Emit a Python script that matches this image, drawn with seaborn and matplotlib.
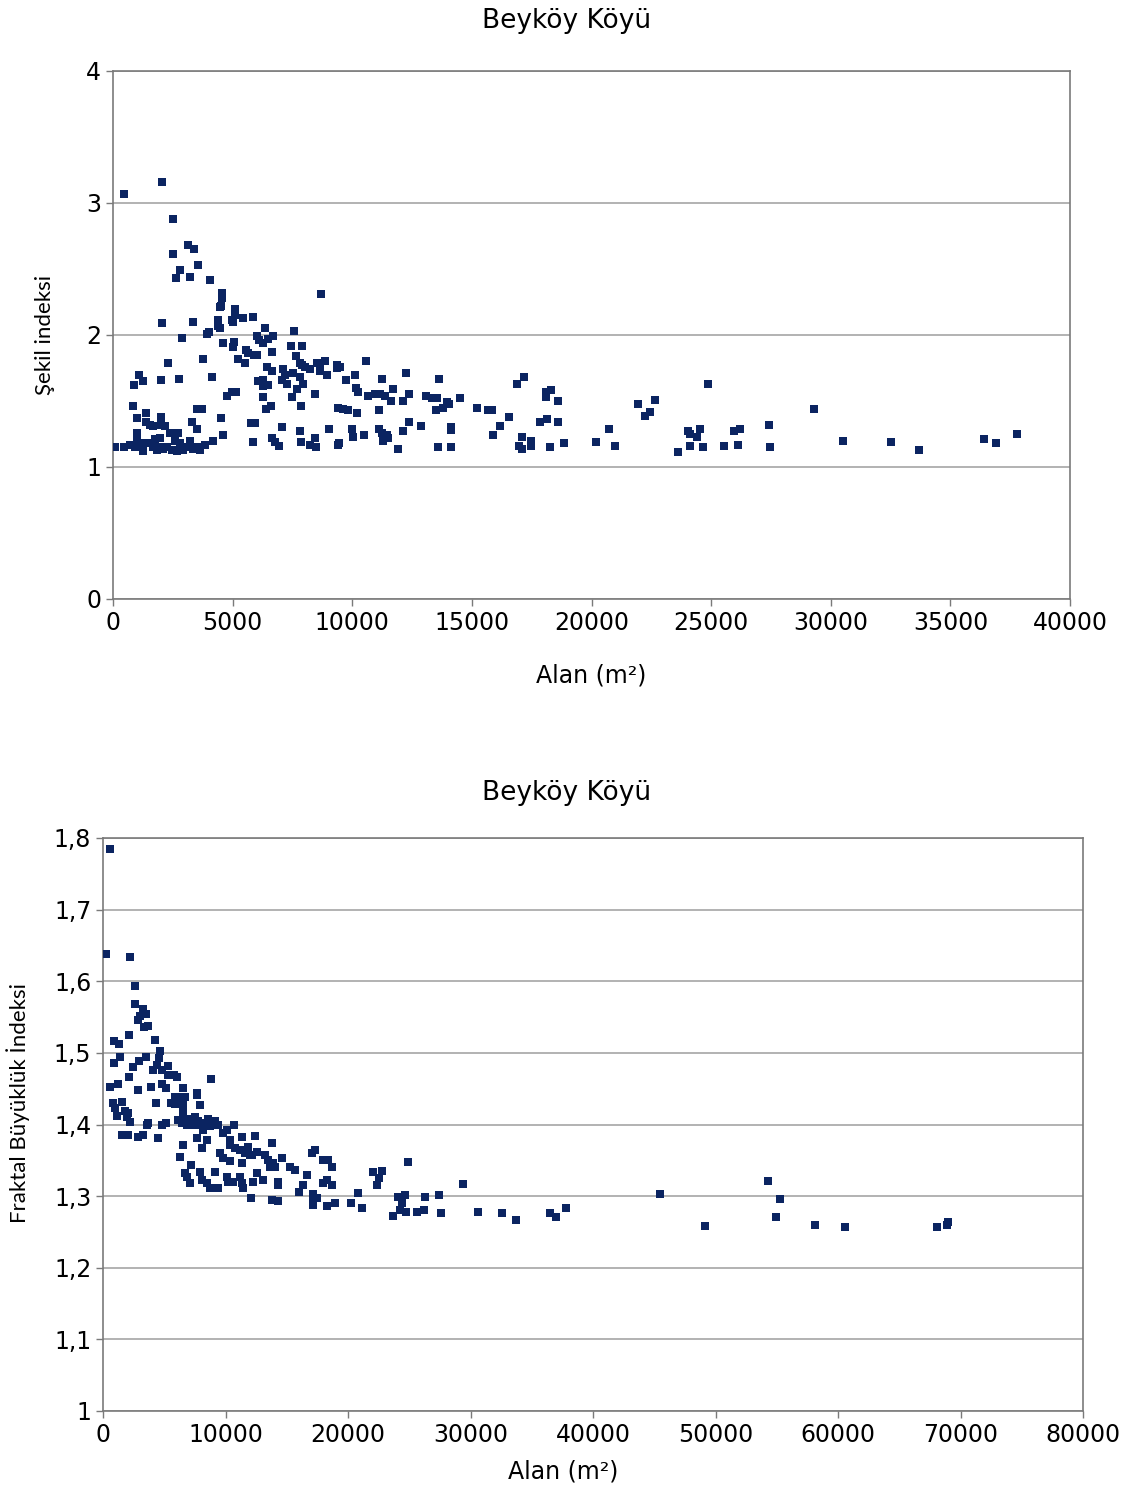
import numpy as np
import pandas as pd
import matplotlib
matplotlib.use("Agg")
import matplotlib.pyplot as plt
import seaborn as sns

# ---------------- data ----------------
title = "Beyköy Köyü"
xlabel = "Alan (m²)"
top_ylabel = "Şekil indeksi"
bottom_ylabel = "Fraktal Büyüklük İndeksi"

top_xticks = [0, 5000, 10000, 15000, 20000, 25000, 30000, 35000, 40000]
top_yticks = [0, 1, 2, 3, 4]
bot_xticks = [0, 10000, 20000, 30000, 40000, 50000, 60000, 70000, 80000]
bot_yticks = [1.0, 1.1, 1.2, 1.3, 1.4, 1.5, 1.6, 1.7, 1.8]
bot_yticklabels = ["1", "1,1", "1,2", "1,3", "1,4", "1,5", "1,6", "1,7", "1,8"]

top_area = [460, 2060, 2495, 2495, 3150, 3370, 2815, 2650, 3230, 3570, 4055, 4540, 4540, 4500, 4470,
            8695, 2060, 3360, 2870, 3915, 4000, 4400, 4400, 4470, 5100, 5100, 4960, 5030, 5450, 5860,
            4585, 5070, 5030, 6350, 6005, 6115, 6285, 6490, 6675, 6630, 7580, 7430, 7900, 5545, 5655,
            5895, 6005, 5240, 5505, 7650, 7815, 7890, 8025, 8235, 8515, 8650, 8860, 8650, 8930, 9350,
            9375, 2280, 3775, 4150, 2005, 2760, 1100, 890, 1265, 6425, 6630, 7090, 7190, 7540, 7815,
            7050, 7285, 7955, 7680, 8445, 7470, 7860, 6075, 6285, 6255, 6490, 6255, 6395, 6590, 4750,
            4960, 5140, 3500, 3710, 825, 1015, 1365, 1365, 1545, 1660, 2005, 2005, 2175, 3290, 3500,
            2380, 2730, 990, 4500, 4585, 5755, 5935, 7050, 7815, 8445, 9040, 9740, 10115, 10160, 10255,
            9390, 9625, 9835, 10185, 10000, 10015, 9420, 9460, 5840, 6630, 6770, 6950, 7860, 8235, 8485,
            85, 460, 710, 920, 1130, 1265, 1405, 1685, 1825, 1965, 2100, 2245, 2450, 2590, 2660,
            2800, 2940, 3150, 3220, 3360, 3570, 3640, 3845, 4165, 1755, 1965, 990, 1265,
            9490, 10590, 11230, 12250, 13640, 10670, 10950, 11160, 11370, 11610, 11720, 12135, 12370,
            13070, 13320, 13530, 13950, 14060, 14505, 13500, 13810, 15200, 15660, 15825, 16550, 16180,
            15900, 16875, 17190, 18090, 18100, 18310, 18590, 17830, 18130, 18590, 17080, 16980, 17080,
            17460, 17460, 18270, 18850, 10490, 11130, 11130, 11230, 11440, 11510, 11300, 11930, 12135,
            12370, 12890, 13600, 14130, 14130, 14130,
            20180, 20730, 21000, 21960, 22660, 22450, 22240, 24855, 23620, 24050, 24120, 24425, 24540,
            24105, 24650, 25540, 25960, 26210, 26140, 27420, 27460, 29300, 30530, 32520, 33690, 36420,
            36910, 37775]
top_shape = [3.07, 3.16, 2.88, 2.61, 2.68, 2.65, 2.49, 2.43, 2.44, 2.53, 2.42, 2.32, 2.28, 2.22, 2.21,
             2.31, 2.09, 2.10, 1.98, 2.01, 2.02, 2.11, 2.07, 2.05, 2.20, 2.15, 2.11, 2.10, 2.13, 2.14,
             1.94, 1.95, 1.91, 2.05, 1.99, 1.96, 1.94, 1.97, 1.99, 1.87, 2.03, 1.92, 1.92, 1.89, 1.86,
             1.85, 1.85, 1.82, 1.79, 1.84, 1.79, 1.77, 1.76, 1.74, 1.79, 1.79, 1.80, 1.73, 1.70, 1.77,
             1.75, 1.79, 1.82, 1.68, 1.66, 1.67, 1.70, 1.62, 1.65, 1.76, 1.73, 1.74, 1.70, 1.71, 1.68,
             1.66, 1.63, 1.63, 1.59, 1.55, 1.53, 1.46, 1.65, 1.66, 1.61, 1.62, 1.53, 1.44, 1.46, 1.54,
             1.57, 1.57, 1.44, 1.44, 1.46, 1.37, 1.41, 1.34, 1.32, 1.31, 1.38, 1.32, 1.31, 1.34, 1.29,
             1.26, 1.26, 1.26, 1.37, 1.24, 1.33, 1.33, 1.30, 1.27, 1.22, 1.29, 1.66, 1.70, 1.60, 1.57,
             1.45, 1.44, 1.43, 1.41, 1.29, 1.23, 1.17, 1.18, 1.19, 1.22, 1.19, 1.16, 1.19, 1.17, 1.15,
             1.15, 1.15, 1.17, 1.15, 1.15, 1.12, 1.18, 1.15, 1.13, 1.15, 1.14, 1.15, 1.13, 1.20, 1.12,
             1.18, 1.13, 1.15, 1.20, 1.14, 1.15, 1.13, 1.17, 1.20, 1.21, 1.22, 1.20, 1.18,
             1.76, 1.80, 1.67, 1.71, 1.67, 1.54, 1.55, 1.55, 1.54, 1.50, 1.59, 1.50, 1.55,
             1.54, 1.52, 1.52, 1.49, 1.48, 1.52, 1.43, 1.45, 1.45, 1.43, 1.43, 1.38, 1.31,
             1.24, 1.63, 1.68, 1.57, 1.53, 1.58, 1.50, 1.34, 1.36, 1.34, 1.23, 1.16, 1.14,
             1.20, 1.16, 1.15, 1.18, 1.24, 1.43, 1.29, 1.26, 1.24, 1.22, 1.20, 1.14, 1.27,
             1.34, 1.31, 1.15, 1.30, 1.28, 1.15,
             1.19, 1.29, 1.16, 1.48, 1.51, 1.42, 1.39, 1.63, 1.11, 1.27, 1.25, 1.23, 1.29,
             1.16, 1.15, 1.16, 1.27, 1.29, 1.17, 1.32, 1.15, 1.44, 1.20, 1.19, 1.13, 1.21,
             1.18, 1.25]

bot_area = [570, 245, 2230, 2640, 2640, 3290, 3510, 2830, 3020, 3370, 3700, 4245, 2120, 925, 1305,
            4650, 4600, 4380, 3485, 2940, 2475, 1390, 925, 5280, 4105, 4790, 5330, 5820, 6015, 8815,
            2120, 570, 1200, 2880, 3920, 4790, 5140, 6505, 5880, 6285, 6695, 7650, 5550, 5880, 6555,
            7920, 4325, 840, 980, 1525, 1120, 1795, 1935, 2065, 2205, 6555, 6555, 6830, 7510, 7780,
            8060, 8600, 9145, 9415, 8735, 8190, 7510, 7235, 6150, 6420, 6830, 5115, 4790, 10720, 11320,
            12405, 10100, 9820, 3565, 3700, 3290, 1525, 2065, 2880, 4515, 7650, 8465, 7650, 8190, 10365,
            10365, 13770, 10775, 11185, 11860, 11590, 12140, 12545, 6555, 6285, 8060, 9550, 9820, 10365,
            11320, 12000, 13225, 13500, 13910, 14590, 13630, 14045, 15265, 15675, 16630, 17040, 17310,
            17990, 18400, 18670, 7160, 6695, 6830, 7100, 7920, 8060, 8465, 8735, 9145, 9415, 10100,
            10230, 10640, 11185, 11320, 11455, 12270, 12545, 13035, 14260, 14260, 12080, 13770, 14310,
            16025, 16300, 16680, 17175, 17175, 17450, 17175, 18260, 18940, 17935, 18260, 18670, 20245,
            20845, 21120, 22065, 22750, 22550, 22340, 24925, 24105, 24650, 24380, 23695, 24245, 24735,
            25660, 26285, 26230, 27455, 27590, 29360, 30635, 32590, 33750, 36460, 36960, 37800, 45470,
            49140, 54285, 55265, 54940, 58120, 60570, 68080, 68980, 68900]
bot_fractal = [1.785, 1.638, 1.634, 1.594, 1.568, 1.561, 1.554, 1.546, 1.551, 1.536, 1.538, 1.518, 1.525,
               1.516, 1.512, 1.502, 1.493, 1.483, 1.494, 1.489, 1.480, 1.494, 1.486, 1.481, 1.476, 1.476,
               1.469, 1.469, 1.466, 1.464, 1.466, 1.453, 1.456, 1.448, 1.453, 1.457, 1.451, 1.451, 1.439,
               1.439, 1.439, 1.441, 1.430, 1.429, 1.430, 1.427, 1.430, 1.430, 1.423, 1.432, 1.412, 1.419,
               1.411, 1.416, 1.404, 1.419, 1.411, 1.407, 1.411, 1.405, 1.402, 1.408, 1.405, 1.399, 1.398,
               1.397, 1.399, 1.404, 1.406, 1.402, 1.399, 1.402, 1.399, 1.399, 1.383, 1.384, 1.392, 1.388,
               1.399, 1.402, 1.385, 1.385, 1.385, 1.383, 1.381, 1.444, 1.378, 1.381, 1.392, 1.378, 1.371,
               1.374, 1.367, 1.365, 1.369, 1.360, 1.357, 1.362, 1.371, 1.355, 1.367, 1.360, 1.353, 1.349,
               1.346, 1.358, 1.358, 1.350, 1.346, 1.353, 1.341, 1.341, 1.340, 1.336, 1.329, 1.360, 1.364,
               1.350, 1.350, 1.340, 1.343, 1.332, 1.327, 1.318, 1.334, 1.322, 1.318, 1.311, 1.333, 1.311,
               1.327, 1.320, 1.320, 1.327, 1.318, 1.311, 1.320, 1.332, 1.323, 1.320, 1.316, 1.297, 1.295,
               1.293, 1.306, 1.316, 1.330, 1.303, 1.295, 1.297, 1.288, 1.286, 1.290, 1.318, 1.323, 1.316,
               1.290, 1.304, 1.284, 1.333, 1.335, 1.326, 1.316, 1.347, 1.299, 1.301, 1.290, 1.272, 1.281,
               1.278, 1.278, 1.299, 1.280, 1.302, 1.276, 1.317, 1.278, 1.277, 1.267, 1.277, 1.271, 1.283,
               1.303, 1.258, 1.321, 1.296, 1.271, 1.260, 1.257, 1.257, 1.264, 1.260]

# ---------------- style ----------------
sns.set_theme(style="white")
plt.rcParams['font.family'] = ['DejaVu Sans']
plt.rcParams['text.color'] = 'black'
plt.rcParams['axes.labelcolor'] = 'black'

marker_color = "#0b2461"
grid_color = "#a6a6a6"
spine_color = "#7a7a7a"

fig = plt.figure(figsize=(11.41, 14.90), dpi=100)
ax1 = fig.add_axes([113/1141, 1-599/1490, (1070-113)/1141, (599-71)/1490])
ax2 = fig.add_axes([103/1141, 1-1411/1490, (1083-103)/1141, (1411-838)/1490])

df_top = pd.DataFrame({"area": top_area, "shape": top_shape})
df_bot = pd.DataFrame({"area": bot_area, "fractal": bot_fractal})

sns.scatterplot(data=df_top, x="area", y="shape", ax=ax1, marker="s", s=34,
                color=marker_color, linewidth=0, zorder=3)
sns.scatterplot(data=df_bot, x="area", y="fractal", ax=ax2, marker="s", s=34,
                color=marker_color, linewidth=0, zorder=3)


def style_axes(ax, xticks, yticks, xlim, ylim):
    ax.set_xlim(*xlim)
    ax.set_ylim(*ylim)
    ax.set_xticks(xticks)
    ax.set_yticks(yticks)
    ax.yaxis.grid(True, color=grid_color, linewidth=1.2)
    ax.xaxis.grid(False)
    ax.set_axisbelow(True)
    for sp in ax.spines.values():
        sp.set_color(spine_color)
        sp.set_linewidth(1.2)
    ax.tick_params(axis='both', which='major', labelsize=17, colors=spine_color,
                   labelcolor='black', length=5, width=1, direction='out',
                   bottom=True, left=True)


style_axes(ax1, top_xticks, top_yticks, (0, 40000), (0, 4))
ax1.set_xticklabels([str(t) for t in top_xticks])
ax1.set_yticklabels([str(t) for t in top_yticks])
ax1.set_xlabel(xlabel, fontsize=17, color='black')
ax1.set_ylabel(top_ylabel, fontsize=16, family=['Lato', 'DejaVu Sans'], color='black')
ax1.xaxis.set_label_coords(0.5, -0.144)
ax1.yaxis.set_label_coords(-0.071, 0.5)
ax1.xaxis.label.set_va('center')
ax1.yaxis.label.set_va('center')

style_axes(ax2, bot_xticks, bot_yticks, (0, 80000), (1.0, 1.8))
ax2.set_xticklabels([str(t) for t in bot_xticks])
ax2.set_yticklabels(bot_yticklabels)
ax2.set_xlabel(xlabel, fontsize=17, color='black')
ax2.set_ylabel(bottom_ylabel, fontsize=16, family=['Lato', 'DejaVu Sans'], color='black')
ax2.xaxis.set_label_coords(0.47, -0.106)
ax2.yaxis.set_label_coords(-0.087, 0.537)
ax2.xaxis.label.set_va('center')
ax2.yaxis.label.set_va('center')

fig.text(567/1141, 1-21/1490, title, ha='center', va='center', fontsize=19, color='black')
fig.text(567/1141, 1-793/1490, title, ha='center', va='center', fontsize=19, color='black')

fig.savefig("out.png", dpi=100)
